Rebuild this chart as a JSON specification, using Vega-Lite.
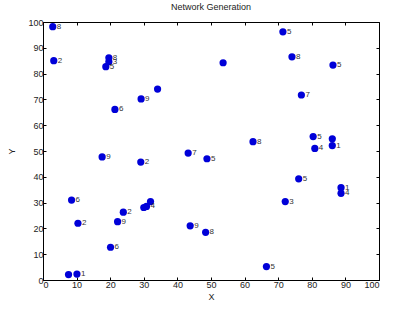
{
  "$schema": "https://vega.github.io/schema/vega-lite/v6.json",
  "width": 336,
  "height": 258,
  "autosize": "none",
  "padding": {"left": 43, "top": 22, "right": 20, "bottom": 33},
  "background": "white",
  "title": {"text": "Network Generation", "fontSize": 9, "fontWeight": "normal", "font": "Liberation Sans", "color": "#222", "offset": 6},
  "config": {
    "view": {"stroke": "black", "strokeWidth": 1},
    "axis": {"grid": false, "labelFont": "Liberation Sans", "titleFont": "Liberation Sans", "labelFontSize": 9, "titleFontSize": 9, "titleFontWeight": "normal", "labelColor": "#222", "titleColor": "#222", "domainColor": "black", "tickColor": "black", "tickSize": -3, "labelPadding": 3}
  },
  "data": {"values": [
    {"x": 2.9, "y": 98.2, "label": "8"},
    {"x": 3.2, "y": 85.0, "label": "2"},
    {"x": 19.6, "y": 86.1, "label": "8"},
    {"x": 19.6, "y": 84.6, "label": "3"},
    {"x": 18.7, "y": 82.7, "label": "5"},
    {"x": 34.1, "y": 74.0, "label": ""},
    {"x": 29.2, "y": 70.2, "label": "9"},
    {"x": 21.4, "y": 66.1, "label": "6"},
    {"x": 53.6, "y": 84.2, "label": ""},
    {"x": 71.4, "y": 96.2, "label": "5"},
    {"x": 74.1, "y": 86.5, "label": "8"},
    {"x": 86.3, "y": 83.3, "label": "5"},
    {"x": 76.9, "y": 71.7, "label": "7"},
    {"x": 80.4, "y": 55.6, "label": "5"},
    {"x": 86.1, "y": 54.7, "label": ""},
    {"x": 86.1, "y": 52.1, "label": "1"},
    {"x": 80.9, "y": 51.0, "label": "4"},
    {"x": 62.5, "y": 53.6, "label": "8"},
    {"x": 43.2, "y": 49.2, "label": "7"},
    {"x": 48.8, "y": 47.0, "label": "5"},
    {"x": 17.6, "y": 47.7, "label": "9"},
    {"x": 29.1, "y": 45.7, "label": "2"},
    {"x": 76.1, "y": 39.2, "label": "5"},
    {"x": 88.7, "y": 35.8, "label": "1"},
    {"x": 88.7, "y": 33.6, "label": "4"},
    {"x": 72.1, "y": 30.4, "label": "3"},
    {"x": 8.5, "y": 31.0, "label": "6"},
    {"x": 10.4, "y": 22.0, "label": "2"},
    {"x": 23.9, "y": 26.3, "label": "2"},
    {"x": 22.2, "y": 22.6, "label": "9"},
    {"x": 30.0, "y": 28.1, "label": ""},
    {"x": 30.8, "y": 28.5, "label": "4"},
    {"x": 32.0, "y": 30.4, "label": ""},
    {"x": 43.8, "y": 21.0, "label": "9"},
    {"x": 48.4, "y": 18.5, "label": "8"},
    {"x": 20.1, "y": 12.7, "label": "6"},
    {"x": 66.5, "y": 5.2, "label": "5"},
    {"x": 7.6, "y": 2.1, "label": ""},
    {"x": 10.1, "y": 2.3, "label": "1"}
  ]},
  "layer": [
    {
      "mark": {"type": "point", "filled": true, "shape": "circle", "size": 52, "color": "#0000d8", "opacity": 1},
      "encoding": {
        "x": {"field": "x", "type": "quantitative", "scale": {"domain": [0, 100], "nice": false, "zero": false}, "axis": {"title": "X", "values": [0,10,20,30,40,50,60,70,80,90,100], "titlePadding": 3}},
        "y": {"field": "y", "type": "quantitative", "scale": {"domain": [0, 100], "nice": false, "zero": false}, "axis": {"title": "Y", "values": [0,10,20,30,40,50,60,70,80,90,100], "titlePadding": 11}}
      }
    },
    {
      "mark": {"type": "text", "align": "left", "baseline": "middle", "dx": 4, "fontSize": 8, "font": "Liberation Sans", "color": "#333"},
      "encoding": {
        "x": {"field": "x", "type": "quantitative", "scale": {"domain": [0, 100], "nice": false, "zero": false}, "axis": {"orient": "top", "title": null, "labels": false, "values": [0,10,20,30,40,50,60,70,80,90,100], "domain": false}},
        "y": {"field": "y", "type": "quantitative", "scale": {"domain": [0, 100], "nice": false, "zero": false}, "axis": {"orient": "right", "title": null, "labels": false, "values": [0,10,20,30,40,50,60,70,80,90,100], "domain": false}},
        "text": {"field": "label"}
      }
    }
  ],
  "resolve": {"axis": {"x": "independent", "y": "independent"}}
}
